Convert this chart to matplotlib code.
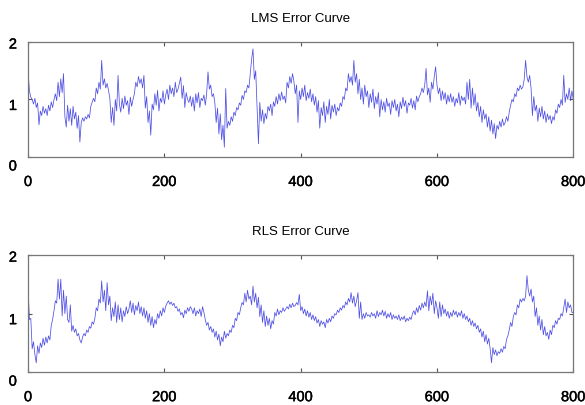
import numpy as np
import matplotlib
matplotlib.use("Agg")
import matplotlib.pyplot as plt
import matplotlib.patheffects as pe
from matplotlib.transforms import ScaledTranslation

# ---- data (sampled every 2 iterations, 0..800) ----
lms_error = [
 1.48, 1.15, 1.04, 1.00, 0.92, 1.02, 0.86, 0.94, 0.56, 0.80,
 0.72, 0.88, 0.76, 0.84, 0.72, 0.90, 0.80, 0.96, 0.86, 1.00,
 1.10, 0.98, 1.30, 1.05, 1.36, 1.12, 1.45, 0.70, 0.52, 0.90,
 0.62, 0.84, 0.55, 0.88, 0.66, 0.78, 0.50, 0.72, 0.26, 0.60,
 0.68, 0.62, 0.70, 0.66, 0.74, 0.68, 0.88, 0.95, 1.02, 0.96,
 1.20, 1.10, 1.30, 1.18, 1.68, 1.25, 1.36, 1.20, 1.28, 1.16,
 1.02, 0.60, 0.86, 0.55, 1.00, 0.80, 1.42, 0.92, 0.78, 1.02,
 0.84, 1.06, 0.90, 0.98, 0.74, 1.04, 0.88, 1.00, 1.10, 1.30,
 1.22, 1.40, 1.28, 1.36, 1.20, 1.42, 0.85, 1.05, 0.60, 0.80,
 0.38, 0.92, 0.82, 1.10, 0.90, 1.16, 0.80, 1.02, 0.95, 1.15,
 0.92, 1.08, 1.18, 1.00, 1.25, 1.10, 1.20, 1.05, 1.30, 1.12,
 1.18, 1.28, 1.39, 1.02, 1.24, 0.86, 1.12, 1.00, 0.95, 1.06,
 0.88, 1.04, 0.80, 1.10, 0.94, 1.12, 0.86, 1.02, 0.98, 1.08,
 0.90, 1.10, 1.48, 1.18, 1.25, 1.05, 1.10, 0.95, 0.60, 0.85,
 0.40, 0.75, 0.30, 0.55, 0.17, 1.19, 0.50, 0.62, 0.55, 0.70,
 0.62, 0.78, 0.72, 0.86, 0.82, 0.94, 0.90, 1.07, 1.00, 1.15,
 1.12, 1.25, 1.20, 1.45, 1.70, 1.88, 1.35, 1.50, 0.85, 0.23,
 0.95, 0.62, 0.82, 0.58, 0.76, 0.66, 0.88, 0.80, 0.92, 0.72,
 0.96, 0.88, 1.05, 0.92, 1.10, 0.98, 1.13, 1.00, 1.06, 0.94,
 1.30, 1.20, 1.40, 1.28, 1.45, 1.32, 1.10, 1.25, 0.60, 1.15,
 1.00, 1.20, 1.05, 1.25, 0.98, 1.12, 1.02, 1.18, 0.96, 1.10,
 0.90, 1.05, 0.78, 0.98, 0.50, 0.86, 0.72, 0.96, 0.60, 0.88,
 0.74, 1.00, 0.66, 0.90, 0.78, 0.92, 0.72, 0.86, 0.80, 0.94,
 0.88, 1.05, 1.00, 1.20, 1.15, 1.45, 1.30, 1.40, 1.25, 1.68,
 1.30, 1.45, 1.10, 1.35, 1.00, 1.20, 0.92, 1.25, 1.05, 1.15,
 0.86, 1.10, 0.95, 1.18, 0.84, 1.05, 0.92, 1.12, 0.70, 1.00,
 0.82, 0.96, 0.78, 1.02, 0.88, 0.94, 0.74, 0.98, 0.86, 1.00,
 0.80, 0.92, 0.70, 0.96, 0.84, 1.04, 0.88, 0.98, 0.76, 0.94,
 0.90, 1.02, 0.85, 0.98, 0.82, 1.06, 0.96, 1.05, 1.10, 1.20,
 1.12, 1.25, 1.54, 1.08, 1.20, 0.95, 1.30, 1.18, 1.40, 1.57,
 1.25, 1.10, 1.20, 0.98, 1.15, 1.00, 1.12, 0.92, 1.08, 0.96,
 1.10, 0.95, 1.05, 0.88, 1.02, 0.94, 1.12, 0.90, 1.06, 0.98,
 1.04, 0.92, 1.30, 1.00, 1.35, 0.85, 1.20, 0.90, 1.10, 0.80,
 0.95, 0.70, 0.88, 0.60, 0.82, 0.66, 0.75, 0.52, 0.70, 0.45,
 0.64, 0.40, 0.58, 0.32, 0.55, 0.48, 0.62, 0.52, 0.66, 0.55,
 0.60, 0.70, 0.62, 0.78, 0.90, 1.00, 0.96, 1.10, 1.05, 1.20,
 1.15, 1.25, 1.18, 1.22, 1.35, 1.68, 1.40, 1.30, 1.42, 1.20,
 0.72, 1.05, 0.80, 0.90, 0.62, 0.85, 0.70, 0.88, 0.66, 0.80,
 0.60, 0.75, 0.65, 0.72, 0.58, 0.70, 0.64, 0.82, 0.76, 0.92,
 0.86, 1.00, 0.90, 1.42, 0.95, 1.10, 1.00, 1.20, 0.98, 1.15,
 1.00,
]

rls_error = [
 1.42, 0.90, 0.92, 0.40, 0.52, 0.30, 0.16, 0.45, 0.32, 0.50,
 0.42, 0.58, 0.46, 0.60, 0.50, 0.62, 0.55, 0.80, 0.90, 1.05,
 1.22, 1.18, 1.59, 1.25, 1.59, 0.96, 1.40, 1.00, 1.30, 0.90,
 0.85, 1.15, 0.70, 0.80, 0.68, 0.74, 0.62, 0.66, 0.55, 0.50,
 0.60, 0.66, 0.62, 0.72, 0.68, 0.78, 0.75, 0.86, 0.82, 0.92,
 1.10, 1.05, 1.25, 1.18, 1.56, 1.20, 1.40, 1.05, 1.53, 1.15,
 1.30, 0.88, 1.10, 0.95, 1.20, 0.85, 1.15, 0.90, 1.10, 0.86,
 1.05, 0.95, 1.12, 1.00, 1.08, 1.22, 1.02, 1.18, 0.98, 1.14,
 1.05, 1.20, 1.00, 1.12, 0.96, 1.10, 0.92, 1.05, 0.85, 1.00,
 0.80, 0.95, 0.76, 0.90, 0.82, 1.00, 0.92, 1.05, 0.96, 1.10,
 1.02, 1.13, 1.18, 1.22, 1.16, 1.20, 1.14, 1.18, 1.10, 1.12,
 1.04, 1.08, 0.98, 1.02, 0.93, 1.06, 1.00, 1.10, 1.04, 1.12,
 1.08, 1.00, 1.10, 0.96, 1.05, 1.00, 1.08, 0.95, 1.12, 1.02,
 0.90, 0.80, 0.85, 0.72, 0.78, 0.68, 0.74, 0.60, 0.70, 0.55,
 0.65, 0.45, 0.60, 0.52, 0.70, 0.58, 0.66, 0.62, 0.72, 0.68,
 0.80, 0.76, 0.92, 0.88, 1.02, 0.98, 1.10, 1.19, 1.15, 1.35,
 1.20, 1.40, 1.25, 1.30, 1.15, 1.47, 1.20, 1.35, 1.10, 1.28,
 0.95, 1.15, 0.85, 1.05, 0.78, 0.96, 0.80, 0.92, 0.74, 0.88,
 0.82, 1.02, 0.96, 1.08, 0.98, 1.05, 1.02, 1.10, 1.04, 1.08,
 1.12, 1.08, 1.16, 1.10, 1.18, 1.12, 1.14, 1.19, 1.15, 1.33,
 1.05, 1.12, 1.00, 1.08, 0.96, 1.05, 0.94, 1.02, 0.90, 0.98,
 0.88, 0.95, 0.84, 0.90, 0.78, 0.88, 0.82, 0.86, 0.76, 0.90,
 0.84, 0.92, 0.86, 0.96, 0.92, 1.00, 0.98, 1.06, 1.02, 1.10,
 1.06, 1.14, 1.10, 1.20, 1.15, 1.26, 1.20, 1.36, 1.18, 1.30,
 1.12, 1.22, 1.36, 0.92, 1.20, 0.90, 1.00, 0.92, 1.02, 0.96,
 0.98, 0.94, 1.02, 0.96, 1.00, 0.92, 1.05, 0.95, 1.02, 0.98,
 1.06, 0.96, 1.04, 0.92, 1.00, 0.94, 1.02, 0.90, 0.98, 0.92,
 0.96, 0.90, 0.98, 0.88, 0.94, 0.90, 0.96, 0.86, 0.92, 0.88,
 0.94, 0.90, 1.00, 1.05, 0.98, 1.10, 1.02, 1.14, 1.06, 1.18,
 1.10, 1.20, 1.12, 1.39, 1.05, 1.30, 1.15, 1.35, 1.00, 1.22,
 1.10, 0.92, 1.20, 0.95, 1.15, 1.00, 1.08, 0.96, 1.04, 0.92,
 1.02, 0.95, 1.06, 0.98, 1.04, 0.94, 1.02, 0.96, 1.05, 0.92,
 1.00, 0.90, 0.96, 0.86, 0.92, 0.80, 0.88, 0.78, 0.84, 0.74,
 0.80, 0.68, 0.74, 0.60, 0.70, 0.52, 0.64, 0.48, 0.58, 0.40,
 0.16, 0.42, 0.30, 0.38, 0.28, 0.35, 0.32, 0.40, 0.34, 0.44,
 0.40, 0.56, 0.62, 0.72, 0.85, 0.78, 0.95, 1.02, 0.98, 1.15,
 1.10, 1.25, 1.20, 1.26, 1.22, 1.30, 1.65, 1.40, 1.30, 1.42,
 1.20, 1.30, 0.95, 1.10, 0.80, 0.96, 0.72, 0.90, 0.64, 0.78,
 0.62, 0.68, 0.56, 0.72, 0.64, 0.80, 0.76, 0.88, 0.82, 0.92,
 0.90, 1.00, 0.96, 1.10, 1.25, 1.02, 1.20, 1.10, 1.15, 1.02,
 1.02,
]

titles = ["LMS Error Curve", "RLS Error Curve"]
x_ticks = [0, 200, 400, 600, 800]
y_ticks = [0, 1, 2]

iters = np.arange(len(lms_error)) * 2

fig = plt.figure(figsize=(5.85, 4.06), dpi=100)
ax1 = fig.add_axes([0.048, 0.611, 0.932, 0.283])
ax2 = fig.add_axes([0.048, 0.081, 0.932, 0.288])

stroke = [pe.withStroke(linewidth=0.3, foreground="black")]
yoff = {0: -8, 1: -5, 2: -1}

for ax, data, title in zip([ax1, ax2], [lms_error, rls_error], titles):
    ax.plot(iters, data, color="#3030e0", lw=0.55, alpha=0.85)
    ax.set_xlim(0, 800)
    ax.set_ylim(0, 2)
    ax.set_xticks(x_ticks)
    ax.set_yticks(y_ticks)
    ax.tick_params(direction="in", length=3, width=0.8, color="#555555",
                   top=True, right=True, labelsize=10.5)
    ax.tick_params(axis="x", pad=13)
    ax.tick_params(axis="y", pad=8)
    for lab in ax.get_xticklabels() + ax.get_yticklabels():
        lab.set_fontfamily("Liberation Sans")
        lab.set_path_effects(stroke)
    for v, lab in zip(y_ticks, ax.get_yticklabels()):
        lab.set_transform(lab.get_transform() +
                          ScaledTranslation(0, yoff[v] / 100, fig.dpi_scale_trans))
    for sp in ax.spines.values():
        sp.set_color("#777777")
        sp.set_linewidth(0.9)
    ax.set_title(title, fontsize=9.5, family="Liberation Sans", pad=15)

fig.savefig("out.png", dpi=100)
